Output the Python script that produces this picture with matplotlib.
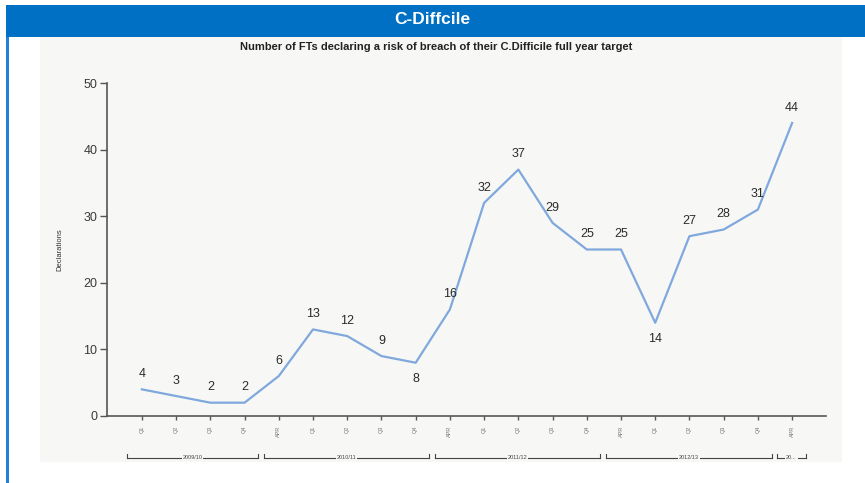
import matplotlib.pyplot as plt
from matplotlib.patches import Rectangle

plt.rcParams['font.family'] = ['Liberation Sans', 'DejaVu Sans']

# data
quarters = ['Q1', 'Q2', 'Q3', 'Q4',
            'APR', 'Q1', 'Q2', 'Q3', 'Q4',
            'APR', 'Q1', 'Q2', 'Q3', 'Q4',
            'APR', 'Q1', 'Q2', 'Q3', 'Q4',
            'APR']
declarations = [4, 3, 2, 2, 6, 13, 12, 9, 8, 16, 32, 37, 29, 25, 25, 14, 27, 28, 31, 44]
years = ['2009/10', '2010/11', '2011/12', '2012/13', '20...']
year_spans = [(0, 3), (4, 8), (9, 13), (14, 18), (19, 19)]
below = [8, 15]  # indexes whose label sits under the point

W, H = 865, 483
fig = plt.figure(figsize=(W / 100, H / 100), dpi=100)
fig.patch.set_facecolor('white')

# frame: blue header bar, left border, light panel
fig.add_artist(Rectangle((6 / W, 1 - 37 / H), 1, 32 / H, transform=fig.transFigure,
                         facecolor='#0070c4', edgecolor='none', zorder=-5))
fig.add_artist(Rectangle((6 / W, 0), 2.5 / W, 1 - 37 / H, transform=fig.transFigure,
                         facecolor='#1e82dc', edgecolor='none', zorder=-5))
fig.add_artist(Rectangle((40 / W, 1 - 462 / H), 802 / W, 425 / H, transform=fig.transFigure,
                         facecolor='#f7f8f5', edgecolor='none', zorder=-5))
fig.text(432 / W, 1 - 20 / H, 'C-Diffcile', color='white', fontsize=12.5,
         fontweight='bold', ha='center', va='center')
fig.text(436 / W, 1 - 47 / H,
         'Number of FTs declaring a risk of breach of their C.Difficile full year target',
         fontsize=8, fontweight='bold', ha='center', va='center', color='#222222')

ax = fig.add_axes([107 / W, 1 - 416 / H, (826 - 107) / W, (416 - 83) / H])
ax.set_zorder(2)
ax.set_facecolor('none')
x = list(range(len(declarations)))
ax.plot(x, declarations, color='#80a8dc', lw=1.6)

for i, v in enumerate(declarations):
    dy = -12 if i in below else 11
    ax.annotate(str(v), (i, v), xytext=(0, dy), textcoords='offset points',
                ha='center', va='center', fontsize=9, color='#2a2a2a')

ax.set_xlim(-1.02, 19.99)
ax.set_ylim(0, 50)
ax.set_yticks([0, 10, 20, 30, 40, 50])
ax.set_xticks(x)
ax.set_xticklabels(quarters, rotation=90, fontsize=4, color='#777777')
for s in ['top', 'right']:
    ax.spines[s].set_visible(False)
for s in ['left', 'bottom']:
    ax.spines[s].set_color('#555555')
    ax.spines[s].set_linewidth(1.2)
ax.tick_params(axis='y', direction='out', length=5, width=1, color='#555555',
               labelsize=9, labelcolor='#3a3a3a', pad=2)
ax.tick_params(axis='x', direction='out', length=3, width=1, color='#555555', pad=4)
ax.set_ylabel('Declarations', fontsize=5.5, color='#333333', labelpad=14)

# year brackets under the quarter labels
yb = -0.125
for name, (a, b) in zip(years, year_spans):
    x0, x1 = a - 0.44, b + 0.4
    ax.plot([x0, x1], [yb, yb], transform=ax.get_xaxis_transform(), clip_on=False,
            color='#444444', lw=0.8)
    for xe in (x0, x1):
        ax.plot([xe, xe], [yb, yb + 0.012], transform=ax.get_xaxis_transform(),
                clip_on=False, color='#444444', lw=0.8)
    ax.text((x0 + x1) / 2, yb, name, transform=ax.get_xaxis_transform(), ha='center',
            va='center', fontsize=4, color='#444444',
            bbox=dict(facecolor='#f7f8f5', edgecolor='none', pad=0.6))

fig.savefig('out.png', dpi=100)
